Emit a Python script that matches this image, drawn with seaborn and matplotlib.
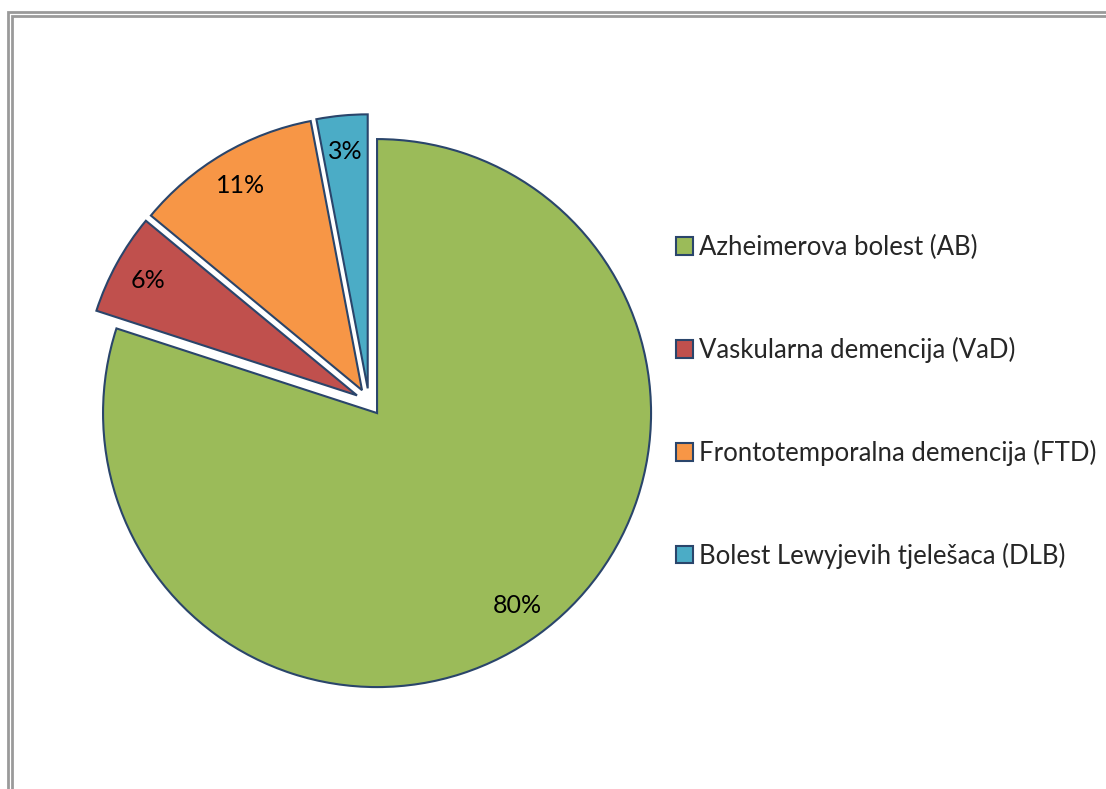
import matplotlib
matplotlib.use("Agg")
import matplotlib.pyplot as plt
from matplotlib.patches import Rectangle
import seaborn as sns

categories = [
    "Azheimerova bolest (AB)",
    "Vaskularna demencija (VaD)",
    "Frontotemporalna demencija (FTD)",
    "Bolest Lewyjevih tjelešaca (DLB)",
]
shares = [80, 6, 11, 3]
colors = ["#9BBB59", "#C0504D", "#F79646", "#4BACC6"]
edge_color = "#2A456B"

sns.set_theme(style="white")
plt.rcParams["font.family"] = ["Lato", "DejaVu Sans"]

W, H, DPI = 1106, 789, 100
fig = plt.figure(figsize=(W / DPI, H / DPI), dpi=DPI)
fig.patch.set_facecolor("white")

# square axes centred on the pie centre
side = 600
cx, cy, radius_px = 369, 402, 274
ax = fig.add_axes([(cx - side / 2) / W, (H - cy - side / 2) / H, side / W, side / H])
lim = side / (2 * radius_px)

wedges, texts, autotexts = ax.pie(
    shares,
    colors=colors,
    startangle=90,
    counterclock=False,
    explode=[0.05] * len(shares),
    autopct=lambda p: f"{p:.0f}%",
    pctdistance=0.87,
    wedgeprops=dict(edgecolor=edge_color, linewidth=1.5),
    textprops=dict(fontsize=18, color="black"),
)
ax.set_xlim(-lim, lim)
ax.set_ylim(-lim, lim)
ax.set_aspect("equal")
ax.axis("off")

leg = fig.legend(
    wedges,
    categories,
    loc="upper left",
    bbox_to_anchor=(676 / W, 1 - 235 / H),
    frameon=False,
    fontsize=18.5,
    handlelength=0.65,
    handleheight=0.65,
    handletextpad=0.25,
    labelspacing=2.99,
    borderpad=0,
    borderaxespad=0,
)

# double grey border around the chart area (left, top offsets in pixels)
for left_px, top_px in ((7.5, 11.5), (11.5, 15.5)):
    fig.add_artist(Rectangle(
        (left_px / W, -0.1), 1.2, 1.1 - top_px / H,
        transform=fig.transFigure, fill=False, edgecolor="#9A9A9A", linewidth=2,
    ))

fig.savefig("out.png", dpi=DPI)
